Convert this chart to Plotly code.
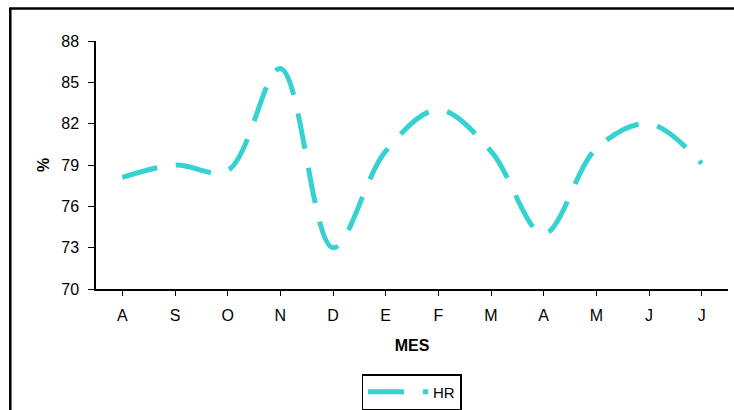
import plotly.graph_objects as go

months = ["A", "S", "O", "N", "D", "E", "F", "M", "A", "M", "J", "J"]
hr = [78.1, 79.0, 78.6, 86.0, 73.0, 80.0, 83.0, 80.0, 74.0, 80.2, 82.0, 79.1]
y_ticks = [70, 73, 76, 79, 82, 85, 88]

W, H = 734, 410
L, R, T, B = 96, 6, 41, 121
pw, ph = W - L - R, H - T - B

x_idx = list(range(len(months)))

fig = go.Figure()
fig.add_trace(go.Scatter(
    x=x_idx, y=hr, mode="lines", name="HR",
    line=dict(color="#36D2D2", width=5, shape="spline", smoothing=1.0, dash="36px,19px"),
))

def px_x(p):
    return (p - L) / pw

def px_y(p):
    return 1 - (p - T) / ph

fig.add_shape(type="rect", xref="paper", yref="paper",
              x0=px_x(10.3), x1=px_x(760), y0=px_y(440), y1=px_y(8.5),
              line=dict(color="black", width=2.5), fillcolor="rgba(0,0,0,0)", layer="below")

fig.update_layout(
    width=W, height=H,
    margin=dict(l=L, r=R, t=T, b=B, autoexpand=False),
    paper_bgcolor="white", plot_bgcolor="white",
    font=dict(family="Liberation Sans, Arial, sans-serif", size=16, color="black"),
    showlegend=True,
    legend=dict(
        x=px_x(411.5), xanchor="center", y=px_y(374), yanchor="top",
        bordercolor="black", borderwidth=1.5, bgcolor="white",
        font=dict(size=15), itemwidth=60,
    ),
    xaxis=dict(
        range=[-0.5, len(months) - 0.5],
        tickmode="array", tickvals=x_idx, ticktext=months,
        tickson="boundaries", ticks="outside", ticklen=5, tickwidth=1, tickcolor="black",
        showline=True, linecolor="black", linewidth=1.5,
        showgrid=False, zeroline=False, automargin=False,
        ticklabelstandoff=6,
        title=dict(text="<b>MES</b>", font=dict(size=16), standoff=17),
    ),
    yaxis=dict(
        range=[70, 88],
        tickmode="array", tickvals=y_ticks,
        ticks="outside", ticklen=6, tickwidth=1, tickcolor="black",
        showline=True, linecolor="black", linewidth=1.5,
        showgrid=False, zeroline=False, automargin=False,
        ticklabelstandoff=6,
        title=dict(text="<b>%</b>", font=dict(size=16), standoff=8),
    ),
)

fig.write_html("out.html")
